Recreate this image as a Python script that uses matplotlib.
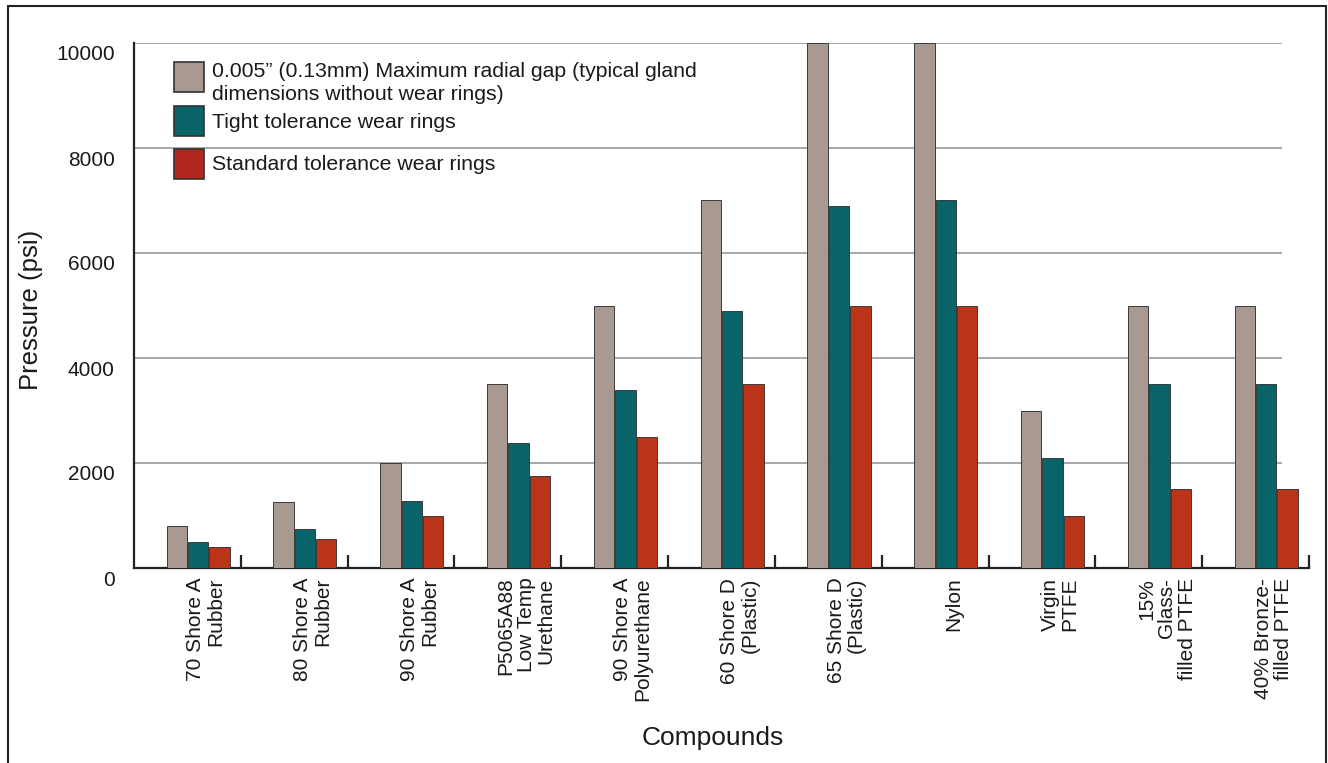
import numpy as np
import matplotlib
matplotlib.use("Agg")
import matplotlib.pyplot as plt
from matplotlib.patches import Rectangle
from matplotlib.transforms import ScaledTranslation

plt.rcParams['font.family'] = ['Liberation Sans', 'DejaVu Sans']

compounds = ["70 Shore A\nRubber", "80 Shore A\nRubber", "90 Shore A\nRubber",
             "P5065A88\nLow Temp\nUrethane", "90 Shore A\nPolyurethane",
             "60 Shore D\n(Plastic)", "65 Shore D\n(Plastic)", "Nylon",
             "Virgin\nPTFE", "15%\nGlass-\nfilled PTFE", "40% Bronze-\nfilled PTFE"]
gap_max = [800, 1250, 2000, 3500, 5000, 7000, 10000, 10000, 3000, 5000, 5000]
tight_rings = [500, 750, 1270, 2375, 3400, 4900, 6900, 7000, 2100, 3500, 3500]
std_rings = [400, 550, 1000, 1750, 2500, 3500, 5000, 5000, 1000, 1500, 1500]
series_names = ["0.005\u201d (0.13mm) Maximum radial gap (typical gland\ndimensions without wear rings)",
                "Tight tolerance wear rings",
                "Standard tolerance wear rings"]
colors = ["#a89a90", "#09646a", "#bb3417"]
legend_colors = ["#a89a90", "#09646a", "#b0281e"]
yticks = [0, 2000, 4000, 6000, 8000, 10000]

W, H = 1328, 763
fig = plt.figure(figsize=(W / 100, H / 100), dpi=100)
ax = fig.add_axes([134 / W, 1 - 568 / H, 1175 / W, 525 / H])

x = np.arange(len(compounds))
width = 0.19
for k, vals in enumerate([gap_max, tight_rings, std_rings]):
    ax.bar(x + 0.1 + (k - 1) * 0.2, vals, width, color=colors[k],
           edgecolor="#3a3a3a", linewidth=0.7, zorder=3)

ax.hlines(yticks[1:], -0.5, 10.25, color="#a0a0a0", lw=1.3, zorder=1)

ax.set_xlim(-0.5, 10.5)
ax.set_ylim(0, 10000)
for s in ["top", "right"]:
    ax.spines[s].set_visible(False)
for s in ["left", "bottom"]:
    ax.spines[s].set_linewidth(1.6)
    ax.spines[s].set_color("#222222")

# group separators as major ticks, labels on minor ticks
ax.set_xticks(x + 0.5)
ax.set_xticklabels([])
ax.tick_params(axis="x", which="major", direction="in", length=9.5, width=1.6, color="#222222")
ax.set_xticks(x + 0.17, minor=True)
ax.set_xticklabels(compounds, minor=True, rotation=90, va="top", ha="center",
                   fontsize=15, linespacing=1.08, color="#1a1a1a")
ax.tick_params(axis="x", which="minor", length=0, pad=7)
for lab in ax.get_xticklabels(minor=True):
    lab.set_multialignment("right")

ax.set_yticks(yticks)
ax.set_yticklabels([str(v) for v in yticks], fontsize=15, color="#1a1a1a")
ax.tick_params(axis="y", length=0, pad=14)
off = ScaledTranslation(0, -10 / 100, fig.dpi_scale_trans)
for lab in ax.get_yticklabels():
    lab.set_transform(lab.get_transform() + off)

fig.text(31 / W, 1 - 310 / H, "Pressure (psi)", rotation=90, fontsize=18.5,
         ha="center", va="center", color="#1a1a1a")
fig.text(713 / W, 1 - 738 / H, "Compounds", fontsize=19,
         ha="center", va="center", color="#1a1a1a")

# legend drawn by hand, boxes in figure pixels
box_tops = [62, 106, 149]
text_y = [83, 122, 165]
for k in range(3):
    fig.add_artist(Rectangle((174 / W, 1 - (box_tops[k] + 30) / H), 30 / W, 30 / H,
                             transform=fig.transFigure, facecolor=legend_colors[k],
                             edgecolor="#333333", lw=1.2))
    fig.text(212 / W, 1 - text_y[k] / H, series_names[k], fontsize=15.3,
             ha="left", va="center", linespacing=1.25, color="#1a1a1a")

# outer frame
fig.add_artist(Rectangle((8 / W, -0.01), 1318 / W, 1 - 6 / H + 0.01,
                         transform=fig.transFigure, fill=False, edgecolor="#222222", lw=1.5))

fig.savefig("out.png", dpi=100)
